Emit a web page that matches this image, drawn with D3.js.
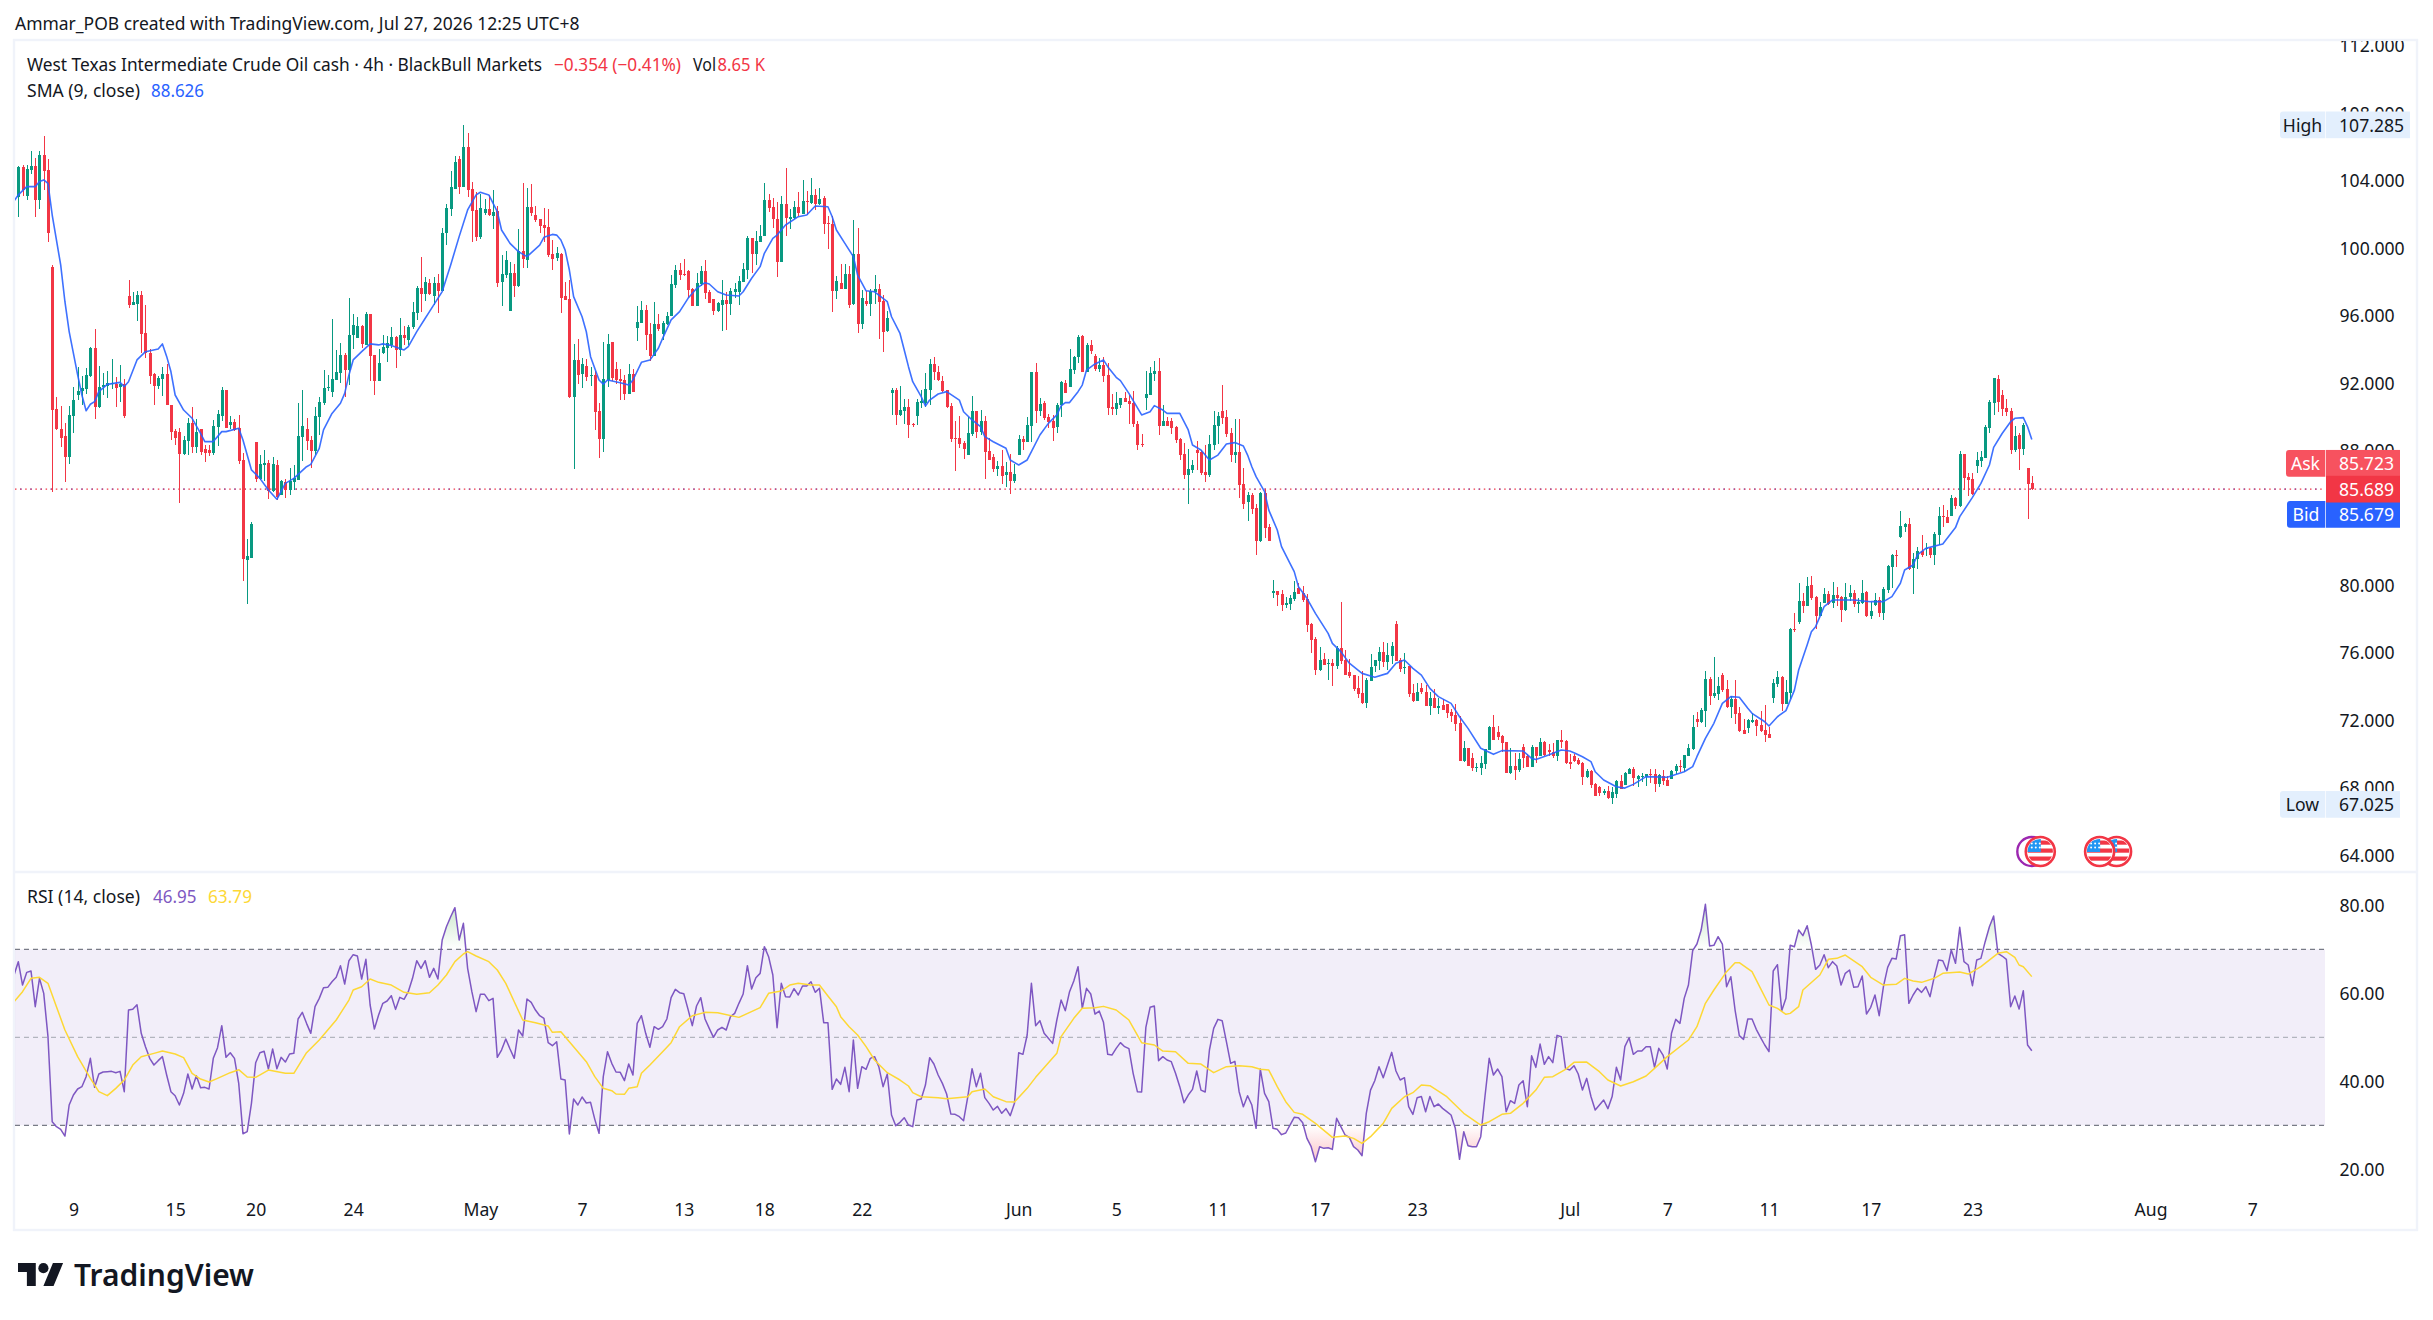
<!DOCTYPE html>
<html><head><meta charset="utf-8">
<style>html,body{margin:0;padding:0;background:#fff}svg{display:block}text{font-family:"Noto Sans",sans-serif}</style>
<script src="https://cdn.jsdelivr.net/npm/d3@7"></script>
</head><body><svg id="c" width="2433" height="1320"></svg>
<script>
const opens=[103.03,104.79,103.07,104.61,104.85,102.85,105.5,104.61,98.86,90.44,
89.26,88.84,87.62,90.05,91.27,91.51,91.63,92.4,94.06,90.56,
91.77,91.83,91.91,91.92,91.77,91.92,97.14,96.61,96.67,97.2,
94.95,93.76,92.52,91.81,92.22,92.52,90.68,89.14,89.08,87.77,
88.54,89.61,88.19,89.26,88.07,88.01,87.83,89.37,90.03,91.57,
89.49,89.67,89.32,87.42,81.49,81.61,88.49,86.29,87.12,87.24,
85.58,87.12,85.34,86.11,85.64,86.13,86.23,88.78,89.26,88.6,
87.95,89.97,90.8,91.67,91.45,92.16,92.58,93.64,92.75,94.83,
94.65,95.36,94.24,96.07,93.64,92.1,93.76,94.06,94.24,94.71,
93.94,94.83,94.53,95.3,96.13,97.61,97.26,97.91,97.14,97.91,
97.44,100.87,102.3,103.48,105.26,103.6,105.97,103.48,102.24,100.64,
102.06,102.3,101.88,102.18,97.97,98.39,96.25,98.5,97.73,99.81,
99.27,
102.41,101.94,101.7,101.35,101.23,99.63,99.39,99.63,97.14,96.96,
91.15,93.34,92.51,92.99,92.4,92.45,90.32,88.66,92.16,94.41,
92.81,92.22,92.16,91.33,92.51,95.24,95.54,96.31,94.89,93.58,
95.48,94.89,95.48,95.95,97.79,98.68,98.44,98.62,97.55,96.55,
97.85,98.62,97.38,96.96,96.25,96.6,96.9,96.66,97.38,97.38,
97.97,98.68,100.58,99.63,100.34,100.69,102.83,102.41,101.7,99.15,
102.59,101.7,101.76,102.41,102,102.77,102.65,103.13,102.59,102.95,
101.47,101.41,97.43,97.91,97.55,98.44,96.66,99.63,95.48,96.84,
96.66,97.38,97.55,96.84,95.06,91.39,91.57,90.08,90.32,90.56,
89.55,90.02,90.79,90.79,91.57,93.11,92.63,92.1,91.57,90.62,
88.72,88.72,88.42,87.71,88.96,90.32,89.08,89.73,87.95,87.59,
86.88,87.06,86.53,86.7,86.17,87.71,88.66,88.48,89.43,92.63,
90.32,90.79,89.96,
89.73,89.37,90.68,91.98,91.74,92.75,93.52,94.77,92.63,94.24,
93.58,92.81,93.05,92.46,90.56,90.44,90.68,91.09,90.92,90.8,
89.55,88.37,91.09,91.27,92.52,92.69,89.43,89.73,89.73,89.37,
88.66,87.77,86.53,86.83,88.01,87.89,86.71,86.53,88.31,89.43,
90.32,89.97,89.02,87.71,87.89,85.99,84.93,85.34,84.57,82.62,
85.46,83.45,79.53,79.65,79.47,78.82,78.88,79.18,79.83,79.53,
79.18,77.7,76.81,74.97,75.62,75.32,75.38,75.2,76.27,75.56,
74.85,74.67,73.9,73.61,73.01,74.32,75.21,75.5,76.03,75.44,
75.8,77.7,75.56,75.09,75.21,73.61,73.13,73.9,73.66,72.83,
73.31,72.72,72.89,72.95,72.48,72.3,71.83,69.57,70.35,69.75,
69.16,69.16,69.4,70.23,71.59,71.29,71.06,70.7,68.86,69.28,
69.04,70.41,69.87,69.22,70.41,69.87,70.7,70.23,70.11,69.87,
70.82,70.76,
69.52,69.87,69.63,69.46,68.63,68.98,68.21,68.03,67.68,67.8,
67.38,67.62,68.39,68.15,68.8,69.1,68.51,68.63,68.63,68.8,
68.8,68.21,68.69,68.45,68.51,68.98,69.28,69.16,69.87,70.29,
72.06,71.89,72.54,74.43,73.43,73.55,74.67,73.84,72.78,73.25,
72.42,71.41,71.53,71.89,72,71.71,71.41,71.18,73.31,74.14,
74.55,72.95,73.6,77.4,77.81,79.06,78.76,80.01,79.3,78.17,
78.94,79.47,78.94,79.41,79.3,78.53,79.3,79.53,78.88,78.94,
79.59,78.17,78.82,79.12,78.35,79.71,81.07,81.79,82.85,83.45,
83.62,81.02,81.55,82.02,82.14,82.2,81.79,82.97,84.1,84.04,
84.1,85.17,84.69,87.77,86.41,86.29,87.06,87.36,87.54,89.32,
90.8,92.22,91.27,90.5,90.32,88,88.9,88.07,86.94,86.05];
const highs=[104.87,104.91,104.91,105.74,105.34,105.74,106.63,105.26,98.98,91.15,
90.62,89.63,90.62,91.75,92.93,92.4,92.87,94.1,95.18,92.99,
92.58,92.69,93.41,92.34,93.05,92.22,98.09,97.38,97.44,97.44,
96.61,94,92.58,92.4,92.93,93.11,90.68,89.26,89.32,88.84,
89.91,90.56,89.85,89.26,88.31,88.31,89.79,90.38,91.75,91.57,
90.03,89.85,90.09,87.83,82.74,83.74,88.49,87.71,88.01,87.42,
87.6,87.42,86.23,86.29,86.92,87.12,90.8,91.57,89.91,88.84,
90.56,91.15,92.75,92.46,95.78,93.94,94.35,93.76,97.02,96.07,
95.9,95.42,96.19,96.07,93.64,94,94.83,94.77,95.3,94.77,
95.84,95.36,95.42,96.78,97.73,99.45,98.27,98.15,98.27,98.44,
101.17,102.59,104.55,105.44,105.44,107.285,106.8,103.9,103.31,103.19,
102.89,103.13,103.42,102.48,99.57,99.81,99.16,99.04,101.11,103.84,
103.54,
103.78,102.47,101.7,102.35,102.3,100.46,100.04,99.69,97.97,98.09,
94.29,94.59,93.46,93.4,92.93,92.69,90.79,94.41,94.89,94.41,
93.23,92.81,92.45,93.11,92.81,96.55,96.84,96.6,95.54,96.78,
96.07,95.66,96.19,98.38,98.98,99.09,99.33,98.68,97.61,98.5,
98.92,99.27,97.49,96.96,96.78,98.09,97.38,97.61,97.91,98.32,
99.09,100.69,100.58,100.99,101.35,103.84,103.18,102.95,102.71,103.07,
104.73,102.3,102.77,103.3,104.01,103.36,104.13,103.48,103.54,103.07,
101.88,101.88,98.32,99.03,99.03,98.92,101.64,101.17,97.49,97.43,
97.55,98.38,97.85,97.2,96.25,91.68,91.68,91.8,91.03,91.03,
89.61,91.03,91.57,92.57,93.4,93.52,92.99,92.4,91.57,90.79,
89.73,90.02,88.54,89.97,91.21,90.32,90.38,90.02,88.72,87.77,
87.36,88.01,87.3,87.77,87.18,88.9,88.84,89.97,92.63,93.17,
91.09,90.91,90.14,
90.09,90.8,92.1,92.16,94,93.58,94.83,94.83,94.35,94.53,
93.7,93.46,93.52,93.17,91.33,91.45,91.09,91.45,91.27,91.51,
89.73,88.96,92.69,92.93,93.29,93.46,90.68,89.97,89.91,89.43,
88.72,88.43,88.07,87.42,88.54,88.01,88.31,88.9,90.32,90.26,
91.86,90.38,89.31,89.85,89.85,86.94,85.52,85.46,84.81,85.52,
85.7,83.62,80.3,79.65,79.71,79.3,79.41,80.24,80.13,79.95,
79.47,77.75,76.92,76.33,75.98,75.62,75.62,76.39,79,76.15,
75.62,74.67,74.61,74.91,74.49,75.92,75.56,76.33,76.63,76.57,
76.63,77.87,75.68,75.98,75.21,74.14,74.2,74.2,74.08,73.66,
73.84,73.31,73.25,72.95,72.66,72.95,72.24,70.76,70.35,70.05,
69.46,69.87,70.29,71.65,72.3,71.65,71.12,70.7,70.35,70.05,
70.05,70.58,69.99,70.52,70.41,70.94,70.76,70.58,70.64,70.82,
71.41,70.82,
69.99,69.99,69.75,69.52,69.1,69.04,68.27,68.09,67.91,68.09,
68.03,68.45,68.74,68.92,69.16,69.22,68.74,68.86,68.8,69.1,
69.1,68.8,69.04,68.69,69.04,69.4,69.63,69.93,70.58,72.3,
72.48,72.72,74.91,74.55,75.74,74.55,74.79,74.38,73.43,74.38,
72.78,72.06,72.06,72.42,72.06,72.54,72.89,71.59,74.43,74.91,
74.61,74.38,77.46,78.35,80.13,79.53,80.48,80.54,79.36,78.98,
79.83,79.65,80.19,79.89,79.36,80.13,80.01,79.71,79.24,80.31,
79.65,79,79.53,79.3,79.89,81.19,81.85,82.08,84.39,83.68,
83.98,81.9,82.26,82.97,82.5,82.26,83.15,84.63,84.75,84.45,
85.34,85.23,87.95,87.77,86.65,86.65,87.89,87.95,89.49,90.97,
92.28,92.46,91.57,91.03,90.5,89.43,89.02,89.61,86.94,86.47];
const lows=[101.84,103.09,102.85,104.37,101.84,102.3,103.42,100.36,85.54,89.18,
88.19,86.13,87.18,89.04,90.98,90.68,91.35,92.34,89.85,90.48,
91.27,91.09,91.63,90.56,90.84,89.91,96.41,96.61,95.66,93.76,
93.46,91.92,90.68,91.63,91.21,90.68,88.6,88.31,84.87,87.71,
87.71,87.83,87.83,87.71,87.3,87.66,87.71,88.25,89.73,89.32,
89.26,89.14,87.18,80.25,78.88,81.61,86.13,86.23,86.17,85.11,
85.54,85.05,85.34,85.17,85.34,85.64,86.23,87.36,88.01,86.94,
87.71,88.9,90.68,91.51,91.15,92.16,91.98,91.15,91.87,94,
94.65,94.06,94.24,92.1,91.27,92.1,93.7,93.23,94.06,92.87,
93.58,94.24,94.24,95.18,95.72,96.19,96.84,97.2,96.61,96.13,
97.44,100.16,101.88,103.48,103.19,103.6,103.01,100.34,100.4,100.52,
101.94,101.88,101.11,97.67,96.55,98.21,96.25,97.08,97.67,98.8,
98.8,
101.88,101.52,100.89,100.34,99.45,98.68,99.21,96.13,96.9,91.09,
86.88,91.92,91.68,92.1,91.8,89.19,87.53,87.89,91.74,92.1,
91.92,90.97,90.97,91.33,91.45,94.47,95.54,93.94,93.28,93.58,
95.06,94.53,95.42,95.95,97.61,98.09,98.32,97.02,96.55,96.55,
97.73,96.96,96.72,96.01,96.19,95.06,95.12,96.01,97.02,96.6,
97.97,98.15,98.5,98.98,100.34,100.69,102.12,101.17,98.26,99.15,
100.69,101.11,101.7,101.88,102,101.94,102.59,102.24,102.53,100.81,
99.92,96.19,96.96,97.55,97.55,96.43,96.6,94.94,95.18,96.55,
95.95,96.66,94.59,93.82,95,90.08,89.49,90.02,89.55,88.72,
89.37,89.49,90.5,90.56,90.68,92.16,92.1,91.45,90.5,88.48,
86.76,88.13,87.48,87.71,88.84,88.72,88.9,86.29,87.42,86.7,
86.47,85.99,85.82,85.4,86.05,87.71,88.01,88.48,88.48,89.61,
90.02,89.79,89.31,
88.54,89.02,89.97,91.39,91.74,92.52,93.17,92.63,92.63,93.7,
92.69,92.63,92.04,90.09,90.09,90.09,90.5,90.86,89.55,89.37,
88.01,88.19,90.38,91.27,92.1,88.9,89.43,89.43,88.96,88.43,
87.42,86.29,84.81,86.65,86.83,86.53,86.11,86.41,88.01,88.37,
89.55,88.78,87.3,87.24,85.17,84.51,83.8,84.22,81.79,82.56,
82.79,82.62,79.24,78.76,78.47,78.64,78.53,79.06,79.47,79,
77.22,75.98,74.67,74.91,75.27,74.4,74,75.03,75.32,74.67,
74.49,73.72,73.31,72.95,72.72,74.32,74.85,74.97,75.15,74.97,
75.32,75.5,74.85,74.73,73.37,73.07,73.13,73.55,72.83,72.3,
72.72,72.36,72.6,72.12,71.89,71.35,69.57,69.52,69.28,68.98,
68.92,68.74,69.1,70.23,70.82,70.82,70.11,68.86,68.8,68.45,
68.92,69.16,69.22,69.22,69.46,69.87,69.87,69.87,69.75,69.57,
70.34,69.4,
69.1,69.52,69.34,68.15,68.57,67.97,67.5,67.5,67.56,67.32,
67.025,67.38,67.91,68.15,68.8,68.09,68.03,68.33,68.09,68.27,
67.74,68.03,68.15,68.09,68.51,68.8,68.92,68.92,69.87,70.23,
71.59,71.83,71.59,72.89,73.31,73.19,73.66,72.72,72.12,71.77,
71.29,71.18,71.24,71.83,71.06,71.29,70.7,70.94,73.01,73.96,
72.54,72.95,73.25,77.22,77.7,78.35,78.76,79.12,77.4,78.17,
78.94,78.82,78.64,78.76,77.81,78.47,79.06,78.7,78.35,78.88,
78.11,77.99,78.76,78.11,77.93,79.53,79.83,81.07,82.79,83.15,
80.9,79.47,80.96,81.67,81.73,81.61,81.19,82.38,83.45,83.68,
84.1,84.51,84.63,85.64,85.28,85.34,86.65,87,87.54,89.02,
90.09,90.26,90.03,90.03,87.77,87.89,86.82,87.71,83.92,85.64];
const closes=[104.81,103.42,104.67,104.85,102.85,105.5,104.55,100.89,90.4,89.26,
88.74,87.62,90.09,90.98,91.51,91.67,92.46,94.06,90.56,91.75,
91.87,91.98,91.98,91.69,91.91,90.03,96.61,96.78,97.2,94.89,
93.76,92.4,91.81,92.28,92.52,90.68,89.08,88.72,87.77,88.6,
89.61,88.19,89.08,87.89,87.83,87.83,89.43,90.15,91.57,89.32,
89.67,89.2,87.36,81.55,81.73,83.62,86.29,87.18,87.24,85.58,
87.18,85.23,86.17,85.64,86.17,86.33,88.84,89.43,88.54,87.95,
90.03,90.86,91.69,91.77,92.22,92.63,93.64,92.75,94.83,95.42,
95.36,94.3,96.07,93.58,92.1,93.17,94.12,94.35,94.71,93.94,
94.83,94.65,95.3,96.19,97.61,97.26,97.97,97.26,97.91,97.44,
100.87,102.36,103.6,105.08,103.6,105.97,103.42,102.18,100.64,102.36,
102.3,101.94,102.12,97.91,98.44,99.27,98.5,97.73,99.81,99.31,
102.42,
102.06,101.64,101.29,101.17,99.57,99.33,99.69,97.02,96.9,91.15,
93.34,92.45,93.11,92.34,92.45,90.26,88.66,92.22,94.29,92.28,
92.16,92.1,91.33,92.51,91.45,95.6,96.31,94.83,93.58,95.48,
95.18,95.54,95.95,97.85,98.68,98.38,98.38,97.49,96.55,97.91,
98.62,97.32,96.72,96.25,96.72,96.9,96.66,97.43,97.55,98.03,
98.74,100.58,99.63,100.4,100.69,102.83,102.35,101.7,99.15,102.59,
101.76,101.82,102.41,102.06,102.77,102.71,103.13,102.59,102.89,101.41,
101.41,97.43,98.03,97.55,98.44,96.6,99.63,95.48,97.02,96.66,
97.43,97.55,96.78,95,95.83,91.57,90.08,90.38,90.56,89.49,
89.49,90.85,90.91,91.63,93.11,92.63,92.16,91.51,90.56,88.66,
88.68,88.36,88.07,89.02,90.32,89.08,89.73,87.89,87.42,86.88,
87.06,86.47,86.7,86.17,86.59,88.66,88.48,89.49,92.63,90.32,
90.74,89.91,89.67,
89.3,90.68,92.04,91.39,92.81,93.52,94.71,92.63,94.24,93.88,
92.81,93.05,92.4,90.5,90.44,90.8,91.09,90.86,90.74,89.55,
88.31,88.31,91.33,92.58,92.69,89.43,89.73,89.43,89.3,88.6,
87.71,86.53,86.88,87.12,87.83,86.65,86.53,88.37,89.49,90.03,
89.91,88.96,87.71,87.89,85.93,84.81,85.34,84.51,82.62,85.46,
83.39,82.62,79.65,79.41,78.82,78.94,79.24,79.59,79.47,79.12,
77.64,76.75,74.97,75.56,75.27,75.38,75.2,76.27,75.5,74.67,
74.61,73.84,73.55,73.01,74.38,75.15,75.56,76.03,75.44,75.86,
76.39,75.5,75.03,75.15,73.55,73.13,73.66,73.66,72.83,73.31,
72.72,72.83,72.6,72.42,72.24,71.77,69.57,70.35,69.28,69.16,
69.22,69.46,70.29,71.59,70.82,71,70.64,68.86,69.28,69.04,
69.69,69.75,69.22,70.41,69.87,70.7,69.93,70.11,69.87,70.82,
70.7,69.46,
69.38,69.58,69.4,68.63,68.98,68.15,67.5,67.68,67.8,67.38,
67.74,68.39,67.91,68.86,69.1,68.57,68.69,68.69,68.8,68.74,
68.21,68.74,68.39,68.09,68.98,69.28,69.22,69.93,70.35,71.59,
71.89,72.6,74.43,73.43,73.6,74.02,73.78,72.78,73.25,72.36,
71.35,71.18,72,72,71.65,71.35,71.12,70.94,74.2,74.55,
72.95,73.66,77.4,77.34,79.06,78.76,79.95,79.24,78.17,78.7,
79.47,78.88,79.41,79.24,78.53,79.3,79.53,78.88,79,79.53,
78.17,78.47,79.12,78.35,79.77,81.13,81.79,81.75,83.51,83.62,
80.96,81.55,82.02,81.79,82.2,81.79,83.03,84.1,84.04,83.68,
85.17,84.69,87.77,86.35,86.23,85.4,87.42,87.6,89.38,90.86,
92.28,90.86,90.44,90.26,88,88.84,88.07,89.49,85.99,85.689];

const smaBars=[-1,0,2,4,5,6,7,8,10,11,12,14,15,16,17,18,19,21,24,25,26,28,30,33,34,35,36,37,39,41,43,44,46,48,49,52,53,54,55,57,59,61,63,65,68,69,71,72,74,76,77,78,79,81,83,85,86,88,91,92,94,96,97,100,102,104,106,108,109,111,113,114,116,118,120,
123,124,126,127,128,129,130,131,133,134,135,137,138,139,142,144,145,147,149,151,152,154,156,158,160,162,163,165,167,170,171,173,175,176,178,179,181,184,186,188,191,192,193,195,197,198,200,202,205,206,208,209,210,211,213,214,215,217,219,222,223,225,227,228,230,233,234,236,238,239,241,243,
245,246,247,248,250,251,252,254,256,257,259,260,262,265,267,268,270,271,274,276,277,279,281,283,285,287,289,290,291,292,294,295,297,298,300,301,302,304,306,309,310,312,314,317,320,323,325,327,329,331,333,335,338,340,342,345,347,348,350,355,357,358,361,364,366,
367,369,371,372,374,377,379,381,384,389,393,395,396,398,400,402,404,406,408,409,412,413,415,417,419,420,422,423,424,426,428,433,437,440,442,444,445,447,448,450,454,457,458,461,463,465,466,468,470,471,473,474,475];
const smaVals=[102.77,103.13,103.62,103.62,103.92,104.02,103.82,101.94,98.98,96.8,95.03,92.46,91.27,90.34,90.72,90.88,91.47,91.9,92.02,91.77,92.06,93.35,93.84,94,94.3,93.56,92.66,91.27,90.38,89.89,89,88.51,88.51,89.1,89.1,89.3,88.6,87.71,86.83,86.33,85.64,85.09,86.03,86.33,87.02,87.16,88.11,89.2,90.18,90.78,91.37,92.46,93.35,93.84,94.3,94.24,94.3,94.2,93.94,94.14,95.03,95.82,96.21,97.4,98.98,100.66,102.24,103.13,103.29,103.13,102.14,101.05,100.26,99.77,99.47,
100.16,100.62,100.79,100.75,100.46,99.86,98.68,97.1,95.91,95.02,93.54,92.16,91.92,92.16,92,91.86,92.16,93.21,93.34,94.04,94.63,95.72,96.21,97,97.59,97.93,97.85,97.39,97.2,97.14,97.39,98.19,98.88,99.67,100.56,100.75,101.35,101.84,101.94,102.47,102.43,101.84,101.05,100.26,99.47,98.38,97.45,97.39,96.8,95.91,94.92,93.94,92.95,92.06,91.17,90.62,90.97,91.33,91.47,90.97,90.28,89.79,89.39,88.8,88.5,88.11,87.42,87.12,87.42,87.91,88.9,89.59,
90.09,90.62,90.82,90.82,91.47,91.86,92.75,93.11,93.35,92.95,92.32,92.12,91.37,90.09,90.28,90.64,90.38,90.18,90.18,89.2,88.31,88.01,87.42,87.71,88.37,88.45,88.25,87.71,87.02,86.43,85.54,84.45,83.27,82.28,81.29,80.8,79.91,79.22,78.33,77.14,76.55,76.06,75.37,74.77,74.54,74.77,75.37,75.56,75.07,74.67,73.88,73.39,72.99,72.2,71.51,70.33,70.09,69.97,70.19,70.17,69.73,69.67,69.93,70.23,70.17,
70.07,69.83,69.54,68.94,68.45,68.05,67.97,68.19,68.65,68.61,68.94,69.24,69.83,70.92,71.81,72.99,73.39,73.35,72.7,72.4,71.9,71.65,72.2,72.56,73.78,74.97,76.45,77.24,77.54,78.72,79.12,79.12,79.02,79.02,79.32,80.11,80.9,81.19,81.79,82.18,82.44,83.41,84.06,85.2,86.03,87.12,88.17,88.99,89.69,89.89,89.93,89.39,88.626];

const rsiFirstBar=-1;
const rsiVals=[64.16,67.19,61.88,64.76,65.06,56.96,63.4,59.99,50.14,30.82,29.69,29.08,27.56,34.61,36.88,38.25,38.78,41.05,45.22,38.63,41.66,42.11,42.19,42.26,41.96,42.26,37.64,56.2,56.35,57.41,50.9,47.87,45.22,43.7,44.69,45.6,41.43,37.64,36.73,34.61,37.26,41.66,38.25,41.28,38.55,38.63,38.25,45.22,47.64,52.64,45.44,46.5,45.22,39.53,28.09,28.55,34.99,44.23,46.5,46.81,42.79,47.34,42.87,45.44,44.38,46.2,46.35,54.16,55.67,53.17,50.9,56.96,58.85,61.28,61.35,62.64,63.63,66.28,62.11,67.41,68.78,68.47,63.25,67.72,57.34,51.88,55.06,57.72,58.25,59.46,56.35,59.08,58.63,60.37,63.4,67.41,65.67,67.41,63.63,65.67,63.25,72.11,75.14,77.41,79.46,72.11,75.9,65.67,60.37,55.82,59.76,59.76,58.32,58.85,45.44,47.11,49.61,47.34,45.22,51.66,50.29,58.7,57.94,56.2,54.91,54.31,48.78,48.09,49,40.52,40.29,28.02,35.97,34.61,36.43,35.06,35.22,31.35,28.17,41.05,46.73,44.08,42.11,42.03,40.14,43.93,41.43,53.17,54.91,50.9,47.72,52.41,51.81,52.41,54.16,59,60.9,60.14,59.91,56.35,52.64,57.11,59,54.16,52.03,49.99,51.66,52.26,51.66,54.69,55.44,57.72,59.84,66.28,60.97,63.55,64.53,70.6,68.32,64.16,52.19,62.26,59.23,59.16,61.05,59.61,
61.66,61.66,62.64,60.22,61.13,53.32,53.32,38.17,40.52,39.31,43.17,37.64,49.38,38.4,43.32,42.72,45.22,45.6,43.32,38.78,41.66,32.34,29.91,30.67,31.73,30.06,29.69,35.75,35.97,39.15,45.37,43.93,41.43,39.53,37.11,32.56,32.49,31.96,31.05,36.54,42.87,38.78,41.81,36.28,34.99,33.47,34.31,32.72,33.78,32.19,34.99,46.5,46.13,50.52,62.26,52.64,53.78,50.9,49.76,48.62,53.93,58.47,56.05,60.37,62.79,66.05,56.58,61.13,59.84,55.29,55.97,53.4,46.13,45.97,47.49,48.78,47.87,47.41,41.81,37.64,37.56,52.26,56.81,57.11,44.69,45.6,44.84,44.46,41.81,38.78,35.14,36.88,38.17,42.34,38,37.56,47.11,52.03,54.08,53.78,49,44.08,44.53,37.64,34.23,36.73,34.61,29.31,42.79,37.26,35.37,29.31,29.08,27.87,28.25,30.06,31.81,31.73,30.59,27.03,25.14,21.73,25.14,24.76,24.91,24.53,31.58,29.69,27.79,27.26,25.14,24.38,23.09,32.72,38,40.14,43.32,40.82,43.7,46.58,42.34,40.29,40.82,34.23,32.49,36.28,36.54,33.09,36.54,34.23,34.84,33.85,33.09,32.34,29.31,22.26,28.55,25.37,25.14,25.14,27.41,36.54,45.22,41.43,42.79,41.05,33.09,35.6,34.99,39.15,40.14,34.23,45.82,43.17,48.47,43.85,45.6,44.23,50.44,50.14,42.94,42.56,43.55,41.66,38,40.67,36.54,33.47,34.61,
35.75,33.78,36.54,43.17,40.29,47.87,49.91,46.13,46.88,46.88,47.87,47.87,43.17,47.49,45.97,42.79,50.9,54.08,53.17,58.85,61.88,69.69,71.2,74.38,80.22,70.75,70.9,72.87,71.2,61.5,63.78,56.2,50.37,49.53,54.16,54.16,51.81,49.99,48.25,46.73,65.06,66.5,56.05,58.85,70.9,70.6,74.38,73.1,75.37,70.97,65.44,66.43,68.78,65.82,67.19,66.2,61.88,64.53,65.29,61.35,61.5,63.93,55.29,56.81,59.61,54.91,61.5,65.9,67.94,67.79,73.1,73.32,57.72,59.61,61.13,60.22,61.5,59.23,63.78,67.56,67.41,65.14,69.84,66.81,74.99,67.19,66.43,61.73,67.56,67.94,71.73,75.14,77.57,69.08,68.47,67.72,56.96,59.38,56.43,60.59,48.25,46.95];

const maBars=[-1,1,3,5,7,9,11,14,17,19,21,23,25,27,29,32,34,37,39,41,43,45,47,50,52,54,56,59,63,65,68,71,75,78,79,81,83,85,88,91,94,97,99,101,103,105,106,108,111,113,115,117,119,122,125,126,128,130,132,134,136,138,140,141,143,144,146,147,149,152,154,156,159,162,165,170,175,177,180,182,
184,187,189,191,193,194,196,198,200,202,205,208,210,211,213,217,219,224,225,228,230,233,235,238,240,245,246,249,251,254,256,259,262,265,268,270,273,276,279,282,285,288,291,293,295,297,299,301,303,306,310,313,315,317,319,322,324,327,329,331,333,337,341,345,347,350,352,355,358,360,362,365,367,370,373,
375,378,381,384,386,389,394,396,398,400,403,405,406,409,411,413,415,417,418,420,421,425,427,429,431,435,437,440,443,445,447,449,452,454,458,460,463,467,469,471,472,473,475];
const maVals=[58.09,60.37,63.4,63.63,62.26,56.96,51.66,45.6,40.67,37.64,36.73,38.4,40.29,43.7,45.6,46.35,46.88,46.2,45.37,41.81,40.52,39.84,40.67,41.96,42.64,40.97,40.9,42.56,41.81,41.81,46.5,49.38,53.93,58.47,60.75,61.5,63.25,62.49,61.88,60.22,59.76,60.14,61.88,64.16,67.19,68.93,69.46,68.47,67.19,65.29,62.26,58.09,53.93,53.32,52.56,51.12,51.28,49,46.73,44.46,41.05,38.4,37.87,37.11,37.03,38.4,38.78,41.81,43.7,46.73,48.78,52.41,54.91,55.67,55.6,54.53,56.73,59.99,60.52,61.88,
62.26,61.88,61.88,59.38,56.96,54.69,52.41,50.52,47.87,44.84,41.96,40.29,38.93,37.41,36.5,36.28,36.05,36.5,37.64,38.25,36.5,35.37,35.29,38.4,40.9,46.35,50.14,54.31,56.58,56.73,57.03,56.2,53.93,48.78,48.25,46.88,46.73,44.08,43.93,41.96,43.32,43.55,43.32,42.72,42.56,38.78,35.37,32.94,32.49,30.44,27.26,27.56,27.03,25.9,27.41,30.44,33.85,36.5,37.41,39.15,39,36.5,32.72,30.06,30.82,32.49,32.72,34.99,38,40.9,41.05,42.72,44.31,44.38,42.19,
40.29,38.93,39.91,41.2,42.94,45.6,49.38,52.41,57.72,60.75,64.91,66.96,66.96,64.91,61.13,57.34,56.58,55.22,55.44,56.96,60.75,64.16,67.72,67.94,68.7,66.05,63.63,61.88,62.03,63.4,62.79,62.49,63.4,64.53,64.84,64.38,66.05,69.08,69.46,68.17,66.43,66.05,63.79];

const priceTicks=[64,68,72,76,80,84,88,92,96,100,104,108,112];
const rsiTicks=[20,40,60,80];
const rsiLevels=[70,50,30];
const timeBars=[13,37,56,79,109,133,157,176,199,236,259,283,307,330,366,389,413,437,461,503,527];
const timeLabels=["9","15","20","24","May","7","13","18","22","Jun","5","11","17","23","Jul","7","11","17","23","Aug","7"];
const lastPrice=85.689, askPrice=85.723, bidPrice=85.679, highPrice=107.285, lowPrice=67.025;
const eventBars=[475,477,495,491];
const eventKinds=["ring","flag","flag","flag"];

const UP="#089981",DOWN="#f23645",INK="#131722";
const svg=d3.select("#c");
const defs=svg.append("defs");
const x=d3.scaleLinear().domain([0,475]).range([18.3,2031.8]);
const y=d3.scaleLinear().domain([64,112]).range([855.06,45.3]);
const ry=d3.scaleLinear().domain([20,80]).range([1169.3,905.3]);
const LEFT=15,RIGHT=2325,TOP=41,MID=872,BOT=1230;

defs.append("clipPath").attr("id","cm").append("rect").attr("x",LEFT).attr("y",TOP).attr("width",RIGHT-LEFT).attr("height",MID-TOP);
defs.append("clipPath").attr("id","cr").append("rect").attr("x",LEFT).attr("y",MID).attr("width",RIGHT-LEFT).attr("height",BOT-MID);
defs.append("clipPath").attr("id","ca").append("rect").attr("x",RIGHT).attr("y",TOP).attr("width",95).attr("height",BOT-TOP);
defs.append("clipPath").attr("id","ob").append("rect").attr("x",LEFT).attr("y",MID).attr("width",RIGHT-LEFT).attr("height",ry(70)-MID);
defs.append("clipPath").attr("id","os").append("rect").attr("x",LEFT).attr("y",ry(30)).attr("width",RIGHT-LEFT).attr("height",BOT-ry(30));
const g1=defs.append("linearGradient").attr("id","gob").attr("x1",0).attr("x2",0).attr("y1",0).attr("y2",1);
g1.append("stop").attr("offset","0%").attr("stop-color","#4caf50").attr("stop-opacity",.3);
g1.append("stop").attr("offset","100%").attr("stop-color","#4caf50").attr("stop-opacity",0);
const g2=defs.append("linearGradient").attr("id","gos").attr("x1",0).attr("x2",0).attr("y1",0).attr("y2",1);
g2.append("stop").attr("offset","0%").attr("stop-color","#f23645").attr("stop-opacity",0);
g2.append("stop").attr("offset","100%").attr("stop-color","#f23645").attr("stop-opacity",.3);

svg.append("rect").attr("width",2433).attr("height",1320).attr("fill","#fff");
svg.append("rect").attr("x",14).attr("y",40).attr("width",2403).attr("height",1190).attr("fill","none").attr("stroke","#f0f3fa").attr("stroke-width",2.4);
svg.append("line").attr("x1",14).attr("x2",2417).attr("y1",MID).attr("y2",MID).attr("stroke","#f0f3fa").attr("stroke-width",2.4);

function label(sel,str,px,py,size,color,width,anchor){
  const t=sel.append("text").attr("x",px).attr("y",py).attr("font-size",size).attr("fill",color).attr("dominant-baseline","central").text(str);
  if(anchor)t.attr("text-anchor",anchor);
  if(width)t.attr("textLength",width).attr("lengthAdjust","spacingAndGlyphs");
  return t;
}

// axes
const axW=17.6;
const pa=d3.axisRight(y).tickValues(priceTicks).tickFormat(d3.format(".3f")).tickSize(0).tickPadding(14.5);
const pg=svg.append("g").attr("clip-path","url(#ca)").append("g").attr("transform",`translate(${RIGHT},0)`).call(pa);
const ra=d3.axisRight(ry).tickValues(rsiTicks).tickFormat(d3.format(".2f")).tickSize(0).tickPadding(14.5);
const rg=svg.append("g").attr("transform",`translate(${RIGHT},0)`).call(ra);
const ta=d3.axisBottom(x).tickValues(timeBars).tickFormat((d,i)=>timeLabels[i]).tickSize(0).tickPadding(0);
const tg=svg.append("g").attr("transform","translate(0,1203.5)").call(ta);
[pg,rg,tg].forEach(g=>{g.select(".domain").remove();g.selectAll("text").attr("font-size",axW).attr("font-family",'"Noto Sans",sans-serif').attr("fill",INK);});
[pg,rg].forEach(g=>g.selectAll("text").attr("dy","0.36em"));

// main pane
const main=svg.append("g").attr("clip-path","url(#cm)");
const py=y(lastPrice);
main.append("line").attr("x1",LEFT).attr("x2",RIGHT).attr("y1",py).attr("y2",py).attr("stroke","#2962ff").attr("stroke-dasharray","1.5 8.7").attr("stroke-dashoffset",-5).attr("stroke-width",1.3);
main.append("line").attr("x1",LEFT).attr("x2",RIGHT).attr("y1",py).attr("y2",py).attr("stroke",DOWN).attr("stroke-dasharray","1.5 3.6").attr("stroke-width",1.3);
const idx=d3.range(opens.length);
const cg=main.append("g").attr("shape-rendering","crispEdges");
cg.selectAll("rect.w").data(idx).join("rect").attr("class","w")
 .attr("x",i=>Math.round(x(i)))
 .attr("width",1).attr("y",i=>y(highs[i])).attr("height",i=>Math.max(1,y(lows[i])-y(highs[i])))
 .attr("fill",i=>closes[i]>=opens[i]?UP:DOWN);
cg.selectAll("rect.b").data(idx).join("rect").attr("class","b")
 .attr("x",i=>Math.round(x(i))-1)
 .attr("width",3).attr("y",i=>y(Math.max(opens[i],closes[i]))).attr("height",i=>Math.max(1,Math.abs(y(opens[i])-y(closes[i]))))
 .attr("fill",i=>closes[i]>=opens[i]?UP:DOWN);
main.append("path").datum(smaBars).attr("fill","none").attr("stroke","#2962ff").attr("stroke-width",1.6).attr("stroke-opacity",.9)
 .attr("stroke-linejoin","round").attr("d",d3.line().x(b=>x(b)).y((b,i)=>y(smaVals[i])));

// events
const ev=main.append("g");
eventBars.forEach((b,i)=>{
  const g=ev.append("g").attr("transform",`translate(${x(b)},851.5)`);
  if(eventKinds[i]==="ring"){g.append("circle").attr("r",14.5).attr("fill","#fff").attr("stroke","#9c27b0").attr("stroke-width",2.4);return;}
  const id="fl"+i;
  defs.append("clipPath").attr("id",id).append("circle").attr("r",12.6);
  g.append("circle").attr("r",14.5).attr("fill","#fff").attr("stroke",DOWN).attr("stroke-width",2.6);
  const f=g.append("g").attr("clip-path",`url(#${id})`);
  f.append("rect").attr("x",-14).attr("y",-14).attr("width",28).attr("height",28).attr("fill","#fff");
  [-11,-3,5].forEach(s=>f.append("rect").attr("x",-14).attr("y",s).attr("width",28).attr("height",4.2).attr("fill",DOWN));
  f.append("rect").attr("x",-14).attr("y",-14).attr("width",14.5).attr("height",14.5).attr("fill","#2196f3");
  [[-8.5,-8],[-4.5,-8],[-0.5,-8],[-8.5,-4],[-4.5,-4],[-0.5,-4]].forEach(p=>f.append("circle").attr("cx",p[0]).attr("cy",p[1]).attr("r",1).attr("fill","#fff"));
});

// rsi pane
const rp=svg.append("g").attr("clip-path","url(#cr)");
rp.append("rect").attr("x",LEFT).attr("width",RIGHT-LEFT).attr("y",ry(70)).attr("height",ry(30)-ry(70)).attr("fill","#7e57c2").attr("fill-opacity",.1);
rsiLevels.forEach(l=>rp.append("line").attr("x1",LEFT).attr("x2",RIGHT).attr("y1",ry(l)).attr("y2",ry(l))
  .attr("stroke",l===50?"#b2b5be":"#787b86").attr("stroke-width",1.2).attr("stroke-dasharray","5 4"));
const rbar=(v,i)=>i+rsiFirstBar;
rp.append("path").datum(rsiVals).attr("clip-path","url(#ob)").attr("fill","url(#gob)")
  .attr("d",d3.area().x((v,i)=>x(rbar(v,i))).y0(ry(70)).y1(v=>ry(Math.max(v,70))));
rp.append("path").datum(rsiVals).attr("clip-path","url(#os)").attr("fill","url(#gos)")
  .attr("d",d3.area().x((v,i)=>x(rbar(v,i))).y0(ry(30)).y1(v=>ry(Math.min(v,30))));
rp.append("path").datum(rsiVals).attr("fill","none").attr("stroke","#7e57c2").attr("stroke-width",1.5).attr("stroke-linejoin","round")
  .attr("d",d3.line().x((v,i)=>x(rbar(v,i))).y(v=>ry(v)));
rp.append("path").datum(maBars).attr("fill","none").attr("stroke","#fdd835").attr("stroke-width",1.5).attr("stroke-linejoin","round")
  .attr("d",d3.line().x(b=>x(b)).y((b,i)=>ry(maVals[i])));

// legends
label(svg,"Ammar_POB created with TradingView.com, Jul 27, 2026 12:25 UTC+8",15,23,17.5,INK,564.5);
label(svg,"West Texas Intermediate Crude Oil cash · 4h · BlackBull Markets",27,63.5,17.5,INK,515);
label(svg,"−0.354 (−0.41%)",554,63.5,17.5,DOWN,127);
label(svg,"Vol",693,63.5,17.5,INK,23);
label(svg,"8.65 K",717.5,63.5,17.5,DOWN,47.5);
label(svg,"SMA (9, close)",27,90,17.5,INK,113);
label(svg,"88.626",151,90,17.5,"#2962ff",53);
label(svg,"RSI (14, close)",27,896,17.5,INK,113);
label(svg,String(46.95),153,896,17.5,"#7e57c2",43.5);
label(svg,String(63.79),208,896,17.5,"#fdd835",44);

// badges
function badge(name,value,cy,leftX,rightX,fillL,fillV,color){
  const h=26.7;
  if(name){
    svg.append("path").attr("d",`M${RIGHT}.3 ${cy-h/2}H${leftX+3}a3 3 0 0 0 -3 3V${cy+h/2-3}a3 3 0 0 0 3 3H${RIGHT}.3Z`).attr("fill",fillL);
    label(svg,name,(leftX+RIGHT)/2,cy,axW,color,null,"middle");
  }
  svg.append("rect").attr("x",RIGHT+1).attr("y",cy-h/2).attr("width",rightX-RIGHT-1).attr("height",h).attr("fill",fillV);
  label(svg,value,2339,cy,axW,color);
}
badge("High",highPrice.toFixed(3),y(highPrice),2280,2410,"#e3effd","#e3effd",INK);
badge("Low",lowPrice.toFixed(3),804.4,2280,2400,"#e3effd","#e3effd",INK);
badge("Ask",askPrice.toFixed(3),463.3,2286,2400,"#f7525f","#f7525f","#fff");
badge("Bid",bidPrice.toFixed(3),514.4,2287,2400,"#2962ff","#2962ff","#fff");
badge("",lastPrice.toFixed(3),py,RIGHT,2400,DOWN,DOWN,"#fff");

// logo
const lg=svg.append("g").attr("transform","translate(18,1258) scale(1.27)").attr("fill",INK);
lg.append("path").attr("d","M14 22H7V11H0V4h14v18zM28 22h-8l7.5-18h8L28 22z");
lg.append("circle").attr("cx",20).attr("cy",8).attr("r",4);
svg.append("text").attr("x",74).attr("y",1285.5).attr("font-size",30).attr("font-weight",600).attr("font-family","Inter,sans-serif").attr("fill",INK).attr("textLength",180).attr("lengthAdjust","spacingAndGlyphs").text("TradingView");
</script></body></html>
